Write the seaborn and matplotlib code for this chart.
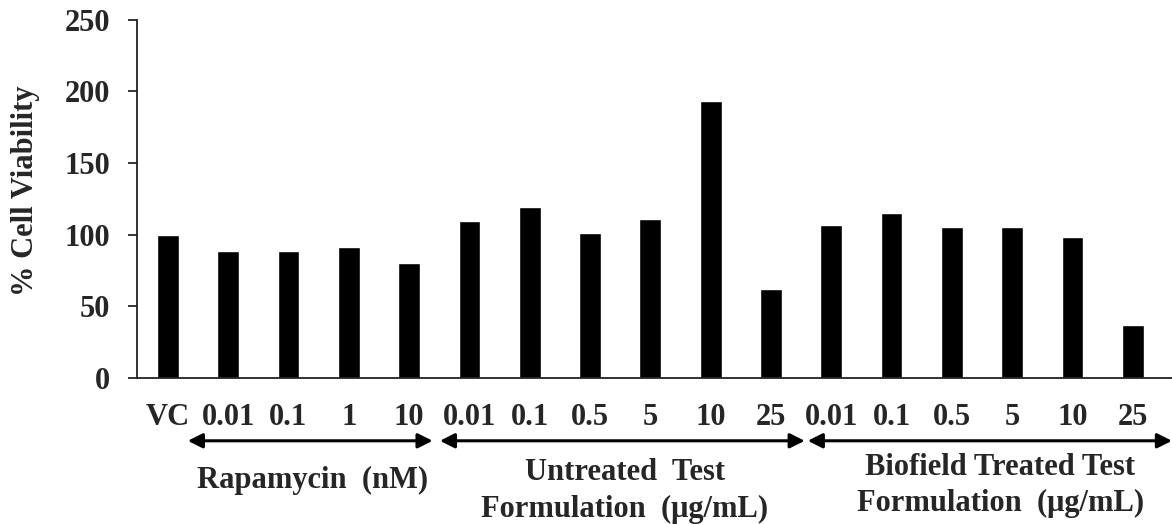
import matplotlib
matplotlib.use("Agg")
import matplotlib.pyplot as plt
import matplotlib.transforms as mtransforms
import pandas as pd
import seaborn as sns

# data
groups = ["Control"] + ["Rapamycin"] * 4 + ["Untreated"] * 6 + ["Biofield"] * 6
doses = ["VC", "0.01", "0.1", "1", "10",
         "0.01", "0.1", "0.5", "5", "10", "25",
         "0.01", "0.1", "0.5", "5", "10", "25"]
viability = [100, 88.7, 88.7, 91.5, 80.3,
             109.6, 119.4, 101, 111, 193.6, 62.2,
             106.8, 115.2, 105.4, 105.4, 98.5, 37]
group_labels = ["Rapamycin  (nM)", "Untreated  Test\nFormulation  (μg/mL)",
                "Biofield Treated Test\nFormulation  (μg/mL)"]

df = pd.DataFrame({"Group": groups, "Dose": doses, "Viability": viability})
df["Key"] = [f"{g}|{d}" for g, d in zip(groups, doses)]

sns.set_style("ticks")
plt.rcParams["font.family"] = ["Liberation Serif", "DejaVu Serif"]
plt.rcParams["font.weight"] = "bold"

fig = plt.figure(figsize=(11.72, 5.24), dpi=100)
ax = fig.add_axes([0.117, 0.279, 0.883, 0.683])
sns.barplot(data=df, x="Key", y="Viability", color="black", width=0.36,
            saturation=1, ax=ax)

ax.set_ylim(0, 250)
ax.set_yticks(range(0, 251, 50))
ax.set_xlim(-0.51, 16.65)
ax.set_xticks(range(len(doses)))
ax.set_xticklabels(doses, fontsize=22, fontweight="bold")
ax.tick_params(axis="x", length=0, pad=18)
ax.tick_params(axis="y", length=6.5, width=1.3, labelsize=22, pad=13)
for lab in ax.get_yticklabels():
    lab.set_fontweight("bold")
ax.set_xlabel("")
ax.set_ylabel("% Cell Viability", fontsize=22, fontweight="bold")
ax.yaxis.set_label_coords(-0.094, 0.522)
for side in ["top", "right"]:
    ax.spines[side].set_visible(False)
for side in ["left", "bottom"]:
    ax.spines[side].set_linewidth(1.3)
    ax.spines[side].set_color("#222222")

# arrows and group captions under the tick labels
trans = mtransforms.blended_transform_factory(ax.transData, ax.transAxes)
spans = [(0.33, 4.39), (4.51, 10.56), (10.61, 16.65)]
centers = [(2.40, -0.287), (7.58, -0.316), (13.8, -0.301)]
for (x0, x1), (cx, cy), label in zip(spans, centers, group_labels):
    ax.annotate("", xy=(x1, -0.176), xytext=(x0, -0.176),
                xycoords=trans, textcoords=trans, annotation_clip=False,
                arrowprops=dict(arrowstyle="<|-|>", color="black", lw=2.2,
                                shrinkA=0, shrinkB=0, mutation_scale=22))
    ax.text(cx, cy, label, transform=trans, ha="center", va="center",
            fontsize=22, fontweight="bold", linespacing=1.35)

fig.savefig("out.png", dpi=100)
